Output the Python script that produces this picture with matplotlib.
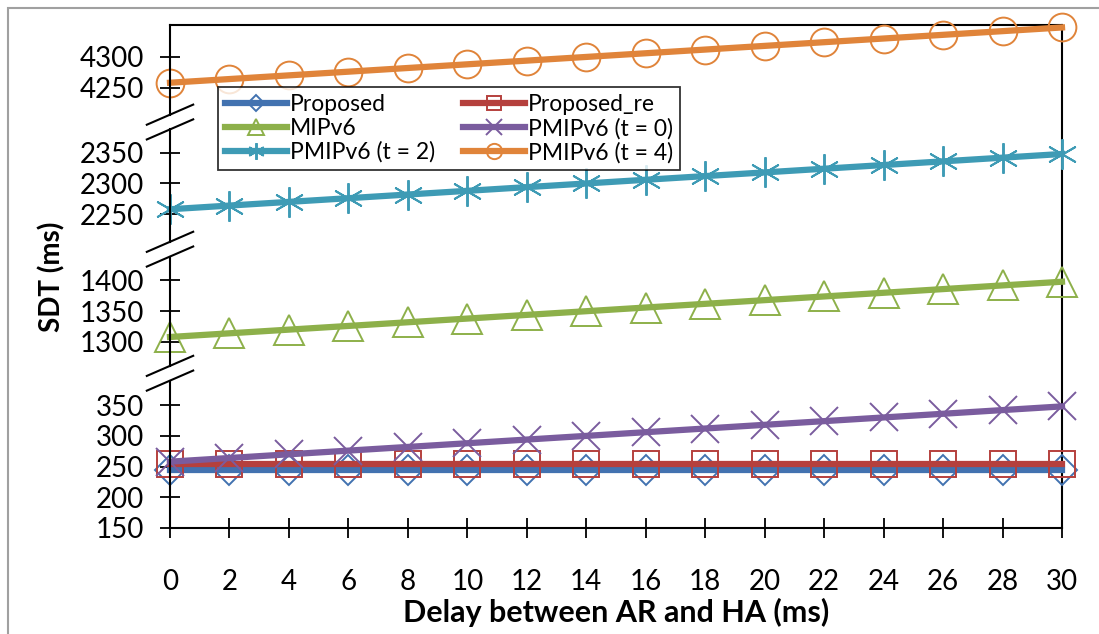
import numpy as np
import matplotlib.pyplot as plt
from matplotlib.patches import Rectangle

plt.rcParams['font.family'] = ['Lato', 'DejaVu Sans']

delay = [0, 2, 4, 6, 8, 10, 12, 14, 16, 18, 20, 22, 24, 26, 28, 30]
proposed = [245] * 16
proposed_re = [255] * 16
mipv6 = [1308, 1314, 1320, 1326, 1332, 1338, 1344, 1350, 1356, 1362, 1368, 1374, 1380, 1386, 1392, 1398]
pmip_t0 = [258, 264, 270, 276, 282, 288, 294, 300, 306, 312, 318, 324, 330, 336, 342, 348]
pmip_t2 = [2258, 2264, 2270, 2276, 2282, 2288, 2294, 2300, 2306, 2312, 2318, 2324, 2330, 2336, 2342, 2348]
pmip_t4 = [4258, 4264, 4270, 4276, 4282, 4288, 4294, 4300, 4306, 4312, 4318, 4324, 4330, 4336, 4342, 4348]

y_ticks = [150, 200, 250, 300, 350, 1300, 1350, 1400, 2250, 2300, 2350, 4250, 4300]

# broken y axis: each kept band gets its own length, the cut parts shrink to a small gap
bands = [(150, 390), (1261, 1439), (2205, 2388), (4206, 4352)]
gap = 24
knots_v, knots_c = [], []
pos = 0.0
for lo, hi in bands:
    knots_v += [lo, hi]
    knots_c += [pos, pos + hi - lo]
    pos += hi - lo + gap
knots_v = np.array(knots_v, float)
knots_c = np.array(knots_c, float)


def squash(v):
    return np.interp(v, knots_v, knots_c)


def unsquash(c):
    return np.interp(c, knots_c, knots_v)


series = [
    ('Proposed', proposed, '#4272B0', 'D', 15),
    ('Proposed_re', proposed_re, '#B5403D', 's', 19),
    ('MIPv6', mipv6, '#8DB04A', '^', 22),
    ('PMIPv6 (t = 0)', pmip_t0, '#7A5C9E', 'x', 20),
    ('PMIPv6 (t = 2)', pmip_t2, '#3E9BB5', (6, 2, 0), 22),
    ('PMIPv6 (t = 4)', pmip_t4, '#E0843A', 'o', 20),
]

fig = plt.figure(figsize=(10.99, 6.34), dpi=100)
ax = fig.add_axes([170 / 1099, 1 - 528 / 634, 892 / 1099, 503 / 634])
ax.set_yscale('function', functions=(squash, unsquash))
ax.set_ylim(150, 4352)
ax.set_xlim(0, 30)

lines = {}
for name, vals, col, mk, ms in series:
    lines[name], = ax.plot(delay, vals, color=col, lw=4.5, marker=mk, ms=ms,
                           mfc='none', mec=col, mew=1.4, label=name,
                           clip_on=False, zorder=3)

ax.set_yticks(y_ticks)
ax.set_yticklabels([str(t) for t in y_ticks])
ax.yaxis.set_minor_locator(plt.NullLocator())
ax.set_xticks(delay)
ax.tick_params(axis='both', direction='inout', length=15, width=1.3,
               labelsize=20, color='black')
ax.tick_params(axis='y', pad=11)
ax.tick_params(axis='x', pad=22)

for s in ['top', 'right', 'bottom']:
    ax.spines[s].set_linewidth(1.5)
ax.spines['left'].set_visible(False)

# left axis drawn band by band, with the double slash at each cut
total = knots_c[-1] - knots_c[0]
for lo, hi in bands:
    y0 = (squash(lo) - knots_c[0]) / total
    y1 = (squash(hi) - knots_c[0]) / total
    ax.plot([0, 0], [y0, y1], color='black', lw=1.5, transform=ax.transAxes,
            clip_on=False, zorder=4)
for (lo, hi), (lo2, hi2) in zip(bands[:-1], bands[1:]):
    for v in (hi, lo2):
        yc = (squash(v) - knots_c[0]) / total
        ax.plot([-0.026, 0.026], [yc - 0.02, yc + 0.02], color='black', lw=1.5,
                transform=ax.transAxes, clip_on=False, zorder=4)

ax.set_xlabel('Delay between AR and HA (ms)', fontsize=22, fontweight='bold',
              labelpad=2)
ax.set_ylabel('SDT (ms)', fontsize=20, fontweight='bold', labelpad=10)

# legend filled row by row like the original
order = ['Proposed', 'MIPv6', 'PMIPv6 (t = 2)',
         'Proposed_re', 'PMIPv6 (t = 0)', 'PMIPv6 (t = 4)']
leg = ax.legend([lines[n] for n in order], order, ncol=2, loc='upper left',
                bbox_to_anchor=(48 / 892, 441 / 503),
                fontsize=16.5, markerscale=0.55, frameon=True, fancybox=False,
                edgecolor='black', handlelength=2.7, handletextpad=0.15,
                columnspacing=1.2, labelspacing=0.12, borderpad=0.3,
                borderaxespad=0)
leg.get_frame().set_linewidth(1.3)

fig.patches.append(Rectangle((8 / 1099, -0.05), 1.1, 1 - 8 / 634 + 0.05,
                             transform=fig.transFigure, fill=False,
                             edgecolor='#A0A0A0', lw=1.5))

fig.savefig('out.png', dpi=100)
